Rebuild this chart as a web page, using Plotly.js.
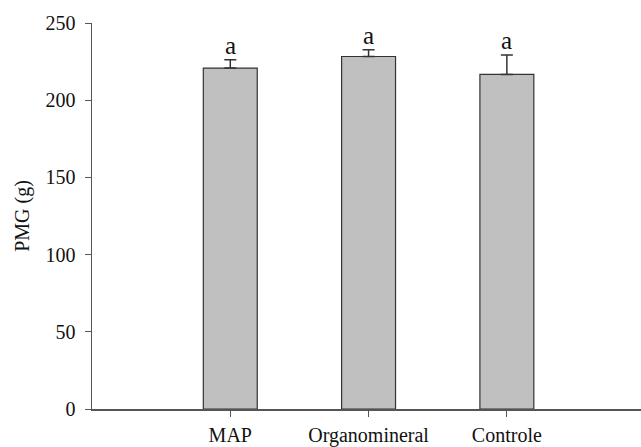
<!DOCTYPE html>
<html>
<head>
<meta charset="utf-8">
<script src="https://cdn.plot.ly/plotly-3.0.1.min.js"></script>
<style>html,body{margin:0;padding:0;background:#fff;}#chart{width:641px;height:447px;}</style>
</head>
<body>
<div id="chart"></div>
<script>
const categories = ["MAP", "Organomineral", "Controle"];
const positions = [1, 2, 3];
const values = [220.8, 228.3, 216.7];
const errors = [5.4, 4.4, 12.5];
const errorsBelow = [0, 0, 0];
const letters = ["a", "a", "a"];
const yTicks = [0, 50, 100, 150, 200, 250];

const font = "Liberation Serif";

const trace = {
  type: "bar",
  x: positions,
  y: values,
  width: 0.39,
  marker: {color: "#c0c0c0", line: {color: "#333333", width: 1.2}},
  error_y: {type: "data", symmetric: false, array: errors, arrayminus: errorsBelow, visible: true, color: "#333333", thickness: 1.5, width: 6},
  hoverinfo: "none"
};

const annotations = positions.map((p, i) => ({
  x: p, y: values[i] + errors[i], xref: "x", yref: "y",
  text: letters[i], showarrow: false, yanchor: "bottom", yshift: -1,
  font: {family: font, size: 25, color: "#111"}
}));

const layout = {
  width: 641, height: 447,
  margin: {l: 92, r: 0, t: 23, b: 38},
  paper_bgcolor: "#fff", plot_bgcolor: "#fff",
  showlegend: false,
  font: {family: font, size: 20, color: "#111"},
  xaxis: {
    range: [0, 3.97], tickmode: "array", tickvals: positions, ticktext: categories,
    showline: true, linecolor: "#555", linewidth: 1.5, ticks: "outside", ticklen: 6, tickcolor: "#555",
    showgrid: false, zeroline: false, ticklabelstandoff: 1,
    tickfont: {family: font, size: 20, color: "#111"}
  },
  yaxis: {
    range: [0, 250], tickmode: "array", tickvals: yTicks,
    showline: true, linecolor: "#555", linewidth: 1.5, ticks: "outside", ticklen: 6, tickcolor: "#555",
    showgrid: false, zeroline: false, ticklabelstandoff: 5,
    tickfont: {family: font, size: 20, color: "#111"},
    title: {text: "PMG (g)", font: {family: font, size: 20, color: "#111"}, standoff: 10}
  },
  annotations: annotations
};

Plotly.newPlot("chart", [trace], layout, {staticPlot: true, displayModeBar: false});
</script>
</body>
</html>
